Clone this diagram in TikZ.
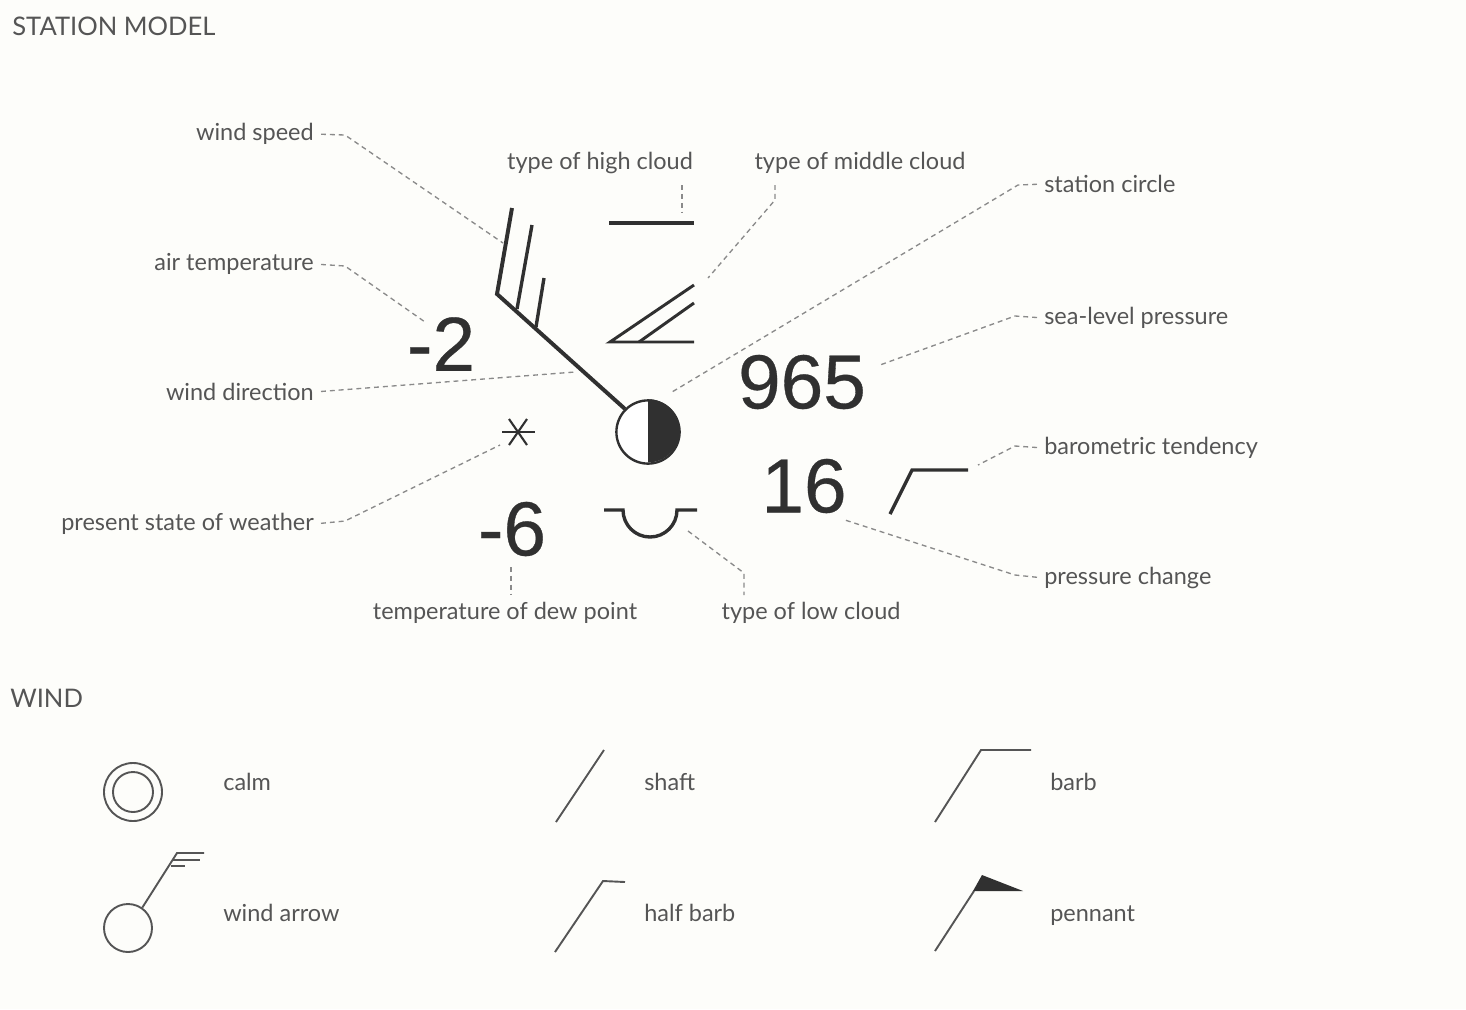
\documentclass[tikz,border=0pt]{standalone}
\usepackage{fontspec}
\setmainfont{Lato}
\newfontfamily\digitfont[FakeBold=0.4]{Liberation Sans}
\usepackage{tikz}
\usetikzlibrary{positioning, arrows.meta, calc}
\definecolor{paper}{HTML}{FDFDFA}
\definecolor{ink}{HTML}{303030}
\definecolor{labelink}{HTML}{555555}
\definecolor{leaderink}{HTML}{8A8A8A}

\begin{document}
\begin{tikzpicture}[
  x=0.025cm, y=-0.025cm,
  lbl/.style={inner sep=0pt, text=labelink, font=\fontsize{16.7}{20}\selectfont},
  heading/.style={lbl, anchor=west, font=\fontsize{18.2}{20}\selectfont},
  num/.style={inner sep=0pt, text=ink, font=\digitfont\fontsize{54.5}{56}\selectfont},
  leader/.style={draw=leaderink, dashed, dash pattern=on 3.5pt off 2.8pt, line width=0.95pt, shorten <=5pt},
  sym/.style={draw=ink, line width=2.8pt},
  thin sym/.style={draw=ink, line width=1.5pt},
  key/.style={draw=labelink, line width=1.35pt}
]
\fill[paper] (0,0) rectangle (1466,1009);
\useasboundingbox (0,0) rectangle (1466,1009);

\node[heading] (stationtitle) at (12,26) {STATION MODEL};
\node[heading] (windtitle) at (10,698) {WIND};

% labels round the model
\node[lbl, anchor=east] (speed) at (314,134) {wind speed};
\node[lbl, anchor=east] (airtemp) at (314,264) {air temperature};
\node[lbl, anchor=east] (direction) at (314,392) {wind direction};
\node[lbl, anchor=east] (weather) at (314,524) {present state of weather};
\node[lbl] (high) at (600,163) {type of high cloud};
\node[lbl] (middle) at (860,163) {type of middle cloud};
\node[lbl, anchor=west] (circlelbl) at (1044,184) {station circle};
\node[lbl, anchor=west] (sealevel) at (1044,318) {sea-level pressure};
\node[lbl, anchor=west] (tendency) at (1044,448) {barometric tendency};
\node[lbl, anchor=west] (change) at (1044,578) {pressure change};
\node[lbl] (dew) at (505,613) {temperature of dew point};
\node[lbl] (low) at (811,613) {type of low cloud};

% numbers
\node[num] (tempval) at (441,344) {-2};
\node[num] (pressval) at (802,382) {965};
\node[num] (changeval) at (804,486) {16};
\node[num] (dewval) at (512,529) {-6};

% station circle and wind arrow
\node[circle, draw=ink, fill=white, line width=1.7pt, minimum size=1.58cm, inner sep=0pt] (stn) at (648,432) {};
\fill[ink] (stn.north) arc[start angle=90, end angle=-90, radius=0.79cm] -- cycle;
\coordinate (shaftend) at (497,294);
\draw[sym, line join=miter] (stn.135) -- (shaftend) -- (512,208);
\draw[sym, line width=2.4pt] (517,309) -- (532,225);
\draw[sym, line width=2.4pt] (536,327) -- (544,278);

% cloud symbols
\draw[sym] (609,223) -- (694,223);
\draw[thin sym, line width=2.1pt] (694,285) -- (610,342) -- (694,342);
\draw[thin sym, line width=2.1pt] (694,303) -- (639,342);
\draw[sym, line width=2.4pt] (604,510) -- (623,510) arc[start angle=180, end angle=0, radius=27] -- (697,510);

% present weather
\node[inner sep=0pt, minimum size=0.8cm] (star) at (518,432) {};
\draw[thin sym] (502,432) -- (535,432);
\draw[thin sym] (509,419) -- (527,445);
\draw[thin sym] (527,419) -- (509,445);

% tendency
\coordinate (tendbend) at (912,470);
\draw[sym, line width=2.4pt] (890,514) -- (tendbend) -- (968,470);

% leaders
\coordinate (speedend) at (503,243);
\coordinate (airend) at (425,322);
\coordinate (directionend) at (575,372);
\coordinate (weatherend) at (500,445);
\coordinate (highend) at (682,212);
\coordinate (middleend) at (708,278);
\coordinate (circleend) at (672,392);
\coordinate (seaend) at (880,365);
\coordinate (tendend) at (978,465);
\coordinate (changeend) at (845,520);
\coordinate (dewend) at (511,567);
\coordinate (lowend) at (688,531);
\draw[leader] (speed.east) -- (345,135) -- (speedend);
\draw[leader] (airtemp.east) -- (345,266) -- (airend);
\draw[leader] (direction.east) -- (directionend);
\draw[leader] (weather.east) -- (345,521) -- (weatherend);
\draw[leader] (682,178) -- (highend);
\draw[leader] (775,178) -- (775,200) -- (middleend);
\draw[leader] (circlelbl.west) -- (1018,185) -- (circleend);
\draw[leader] (sealevel.west) -- (1015,316) -- (seaend);
\draw[leader] (tendency.west) -- (1015,446) -- (tendend);
\draw[leader] (change.west) -- (1015,575) -- (changeend);
\draw[leader, shorten <=0pt] (dewend) -- (511,595);
\draw[leader, shorten <=0pt] (lowend) -- (744,573) -- (744,595);

% wind key
\node[circle, key, minimum size=1.45cm, inner sep=0pt] (calmouter) at (133,792) {};
\node[circle, key, minimum size=1cm, inner sep=0pt] (calminner) at (133,792) {};
\node[lbl, anchor=west] (calm) at (223,782) {calm};
\node[circle, key, minimum size=1.2cm, inner sep=0pt] (arrowcircle) at (128,928) {};
\draw[key] (arrowcircle.55) -- (177,853) -- (204,853);
\draw[key] (173,860) -- (200,860);
\draw[key] (171,866) -- (185,866);
\node[lbl, anchor=west] (windarrow) at (223,913) {wind arrow};

\draw[key] (556,822) -- (604,750);
\node[lbl, anchor=west] (shaft) at (644,782) {shaft};
\draw[key] (555,952) -- (603,881) -- (625,882);
\node[lbl, anchor=west] (halfbarb) at (644,913) {half barb};

\draw[key] (935,822) -- (981,750) -- (1031,750);
\node[lbl, anchor=west] (barb) at (1050,782) {barb};
\draw[key] (935,951) -- (974,891);
\fill[ink] (973,891) -- (982,875) -- (1023,891) -- cycle;
\node[lbl, anchor=west] (pennant) at (1050,916) {pennant};
\end{tikzpicture}
\end{document}
